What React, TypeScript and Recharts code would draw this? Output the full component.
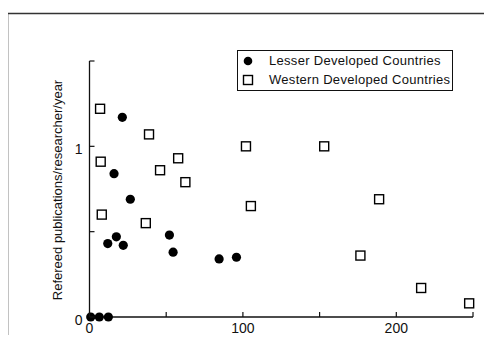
import React from 'react';
import { ScatterChart, Scatter, XAxis, YAxis, Legend } from 'recharts';

const lesserStaff = [21.4, 16, 26.6, 17.5, 11.9, 22, 52.1, 54.5, 84.5, 95.8, 0.8, 6.4, 12.3];
const lesserPubs = [1.17, 0.84, 0.69, 0.47, 0.43, 0.42, 0.48, 0.38, 0.34, 0.35, 0, 0, 0];
const westernStaff = [6.9, 7.3, 8, 38.8, 46, 57.8, 62.5, 36.7, 102, 105.2, 153, 188.8, 176.6, 216.2, 247.5];
const westernPubs = [1.22, 0.91, 0.6, 1.07, 0.86, 0.93, 0.79, 0.55, 1.0, 0.65, 1.0, 0.69, 0.36, 0.17, 0.08];

const xTicks = [0, 50, 100, 150, 200, 250];
const xTickLabels = ['0', '', '100', '', '200', ''];
const yTicks = [0, 0.5, 1, 1.5];
const yTickLabels = ['0', '', '1', ''];

const seriesNames = ['Lesser Developed Countries', 'Western Developed Countries'];
const xTitle = 'No. of research staff';
const yTitle = 'Refereed publications/researcher/year';

const lesserData = lesserStaff.map((x, i) => ({ x, y: lesserPubs[i] }));
const westernData = westernStaff.map((x, i) => ({ x, y: westernPubs[i] }));

const FONT = '"Liberation Sans", Arial, sans-serif';
const INK = '#111';

const XTick = (props: any) => {
  const { x, y, payload } = props;
  const idx = xTicks.indexOf(payload.value);
  const lbl = idx >= 0 ? xTickLabels[idx] : '';
  return (
    <g>
      <line x1={x} y1={y} x2={x} y2={y - 5} stroke={INK} strokeWidth={1.2} />
      {lbl && (
        <text x={x} y={y + 16} textAnchor="middle" fontSize={14} fontFamily={FONT} fill={INK}>
          {lbl}
        </text>
      )}
    </g>
  );
};

const YTick = (props: any) => {
  const { x, y, payload } = props;
  const idx = yTicks.indexOf(payload.value);
  const lbl = idx >= 0 ? yTickLabels[idx] : '';
  return (
    <g>
      <line x1={x} y1={y} x2={x + 5} y2={y} stroke={INK} strokeWidth={1.2} />
      {lbl && (
        <text x={x - 7} y={y + 8} textAnchor="end" fontSize={14} fontFamily={FONT} fill={INK}>
          {lbl}
        </text>
      )}
    </g>
  );
};

const Dot = (p: any) => <circle cx={p.cx} cy={p.cy} r={4.6} fill="#000" />;
const Sq = (p: any) => (
  <rect x={p.cx - 4.5} y={p.cy - 4.5} width={9} height={9} fill="#fff" stroke="#000" strokeWidth={1.4} />
);

const LegendBox = () => (
  <div
    style={{
      width: 214,
      height: 39,
      border: '1.5px solid #111',
      background: '#fff',
      fontFamily: FONT,
      fontSize: 13,
      color: INK,
      position: 'relative',
    }}
  >
    <svg width={20} height={40} style={{ position: 'absolute', left: 0, top: 0 }}>
      <circle cx={10} cy={10} r={4.3} fill="#000" />
      <rect x={5.5} y={24.5} width={9} height={9} fill="#fff" stroke="#000" strokeWidth={1.4} />
    </svg>
    <div style={{ position: 'absolute', left: 31, top: 2, whiteSpace: 'nowrap', letterSpacing: 0.3 }}>
      {seriesNames[0]}
    </div>
    <div style={{ position: 'absolute', left: 31, top: 21, whiteSpace: 'nowrap', letterSpacing: 0.3 }}>
      {seriesNames[1]}
    </div>
  </div>
);

export default function App() {
  return (
    <div style={{ margin: -8, width: 492, height: 343, position: 'relative', overflow: 'hidden', background: '#fff' }}>
      <svg width={492} height={343} style={{ position: 'absolute', left: 0, top: 0 }}>
        <path d="M7.5 343 L7.5 13.5 L492 13.5" fill="none" stroke="#333" strokeWidth={1.6} />
      </svg>
      <div style={{ position: 'absolute', left: 0, top: 0 }}>
        <ScatterChart width={492} height={355} margin={{ top: 61, right: 19, bottom: 0, left: 0 }}>
          <XAxis
            type="number"
            dataKey="x"
            domain={[0, 250]}
            ticks={xTicks}
            interval={0}
            tickSize={0}
            tickMargin={0}
            tickLine={false}
            tick={<XTick />}
            height={38}
            axisLine={{ stroke: INK, strokeWidth: 1.3 }}
            label={{ value: xTitle, position: 'center', dx: 2, dy: 9, fontSize: 13, fontFamily: FONT, fill: INK }}
          />
          <YAxis
            type="number"
            dataKey="y"
            domain={[0, 1.5]}
            ticks={yTicks}
            interval={0}
            tickSize={0}
            tickMargin={0}
            tickLine={false}
            tick={<YTick />}
            width={89.5}
            axisLine={{ stroke: INK, strokeWidth: 1.3 }}
            label={{ value: yTitle, position: 'center', angle: -90, dx: 13, dy: 1, fontSize: 13, fontFamily: FONT, fill: INK }}
          />
          <Legend
            layout="vertical"
            align="center"
            verticalAlign="middle"
            content={<LegendBox />}
            wrapperStyle={{ position: 'absolute', left: 237, top: 50, width: 'auto', height: 'auto' }}
          />
          <Scatter name={seriesNames[0]} data={lesserData} shape={<Dot />} isAnimationActive={false} />
          <Scatter name={seriesNames[1]} data={westernData} shape={<Sq />} isAnimationActive={false} />
        </ScatterChart>
      </div>
    </div>
  );
}
